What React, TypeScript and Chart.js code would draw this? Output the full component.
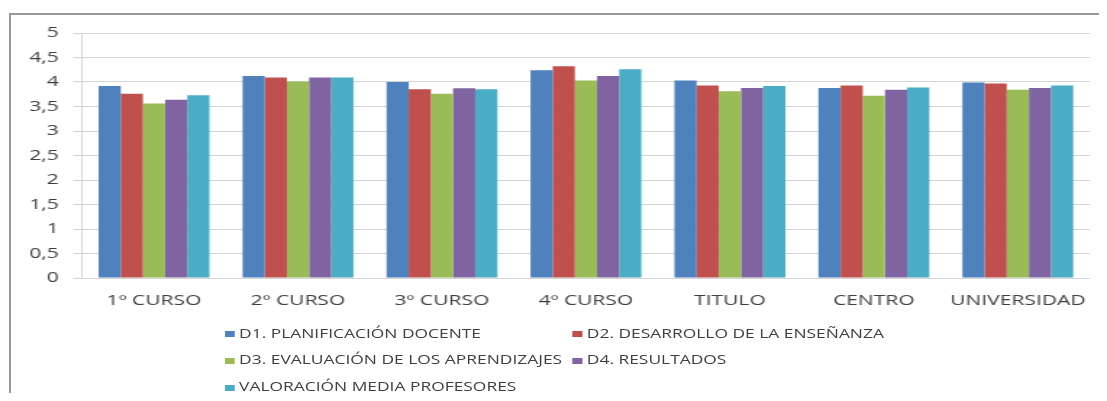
import React, { useEffect, useRef } from 'react';
import { Chart, registerables } from 'chart.js';

Chart.register(...registerables);

const categories = ['1º CURSO', '2º CURSO', '3º CURSO', '4º CURSO', 'TITULO', 'CENTRO', 'UNIVERSIDAD'];
const seriesNames = [
  'D1. PLANIFICACIÓN DOCENTE',
  'D2. DESARROLLO DE LA ENSEÑANZA',
  'D3. EVALUACIÓN DE LOS APRENDIZAJES',
  'D4. RESULTADOS',
  'VALORACIÓN MEDIA PROFESORES',
];
const seriesColors = ['#4F81BD', '#C0504D', '#9BBB59', '#8064A2', '#4BACC6'];
const d1Values = [3.92, 4.12, 4.0, 4.24, 4.03, 3.88, 3.99];
const d2Values = [3.76, 4.09, 3.85, 4.32, 3.93, 3.93, 3.97];
const d3Values = [3.56, 4.01, 3.76, 4.03, 3.81, 3.72, 3.84];
const d4Values = [3.64, 4.09, 3.87, 4.12, 3.88, 3.84, 3.88];
const mediaValues = [3.73, 4.09, 3.85, 4.26, 3.92, 3.89, 3.93];
const yTickLabels = ['0', '0,5', '1', '1,5', '2', '2,5', '3', '3,5', '4', '4,5', '5'];

const seriesValues = [d1Values, d2Values, d3Values, d4Values, mediaValues];

const RW = 764;
const RH = 401;
const SX = 1107 / RW;
const TEXT = '#404040';
const GRID = '#d4d4d4';
const FONT = "'Open Sans', 'DejaVu Sans', sans-serif";

const legendColX = [155, 395];
const legendTextX = [165, 405];
const legendRowY = [334, 360.5, 387.5];

export default function App() {
  const ref = useRef<HTMLCanvasElement>(null);

  useEffect(() => {
    if (!ref.current) return;
    const chart = new Chart(ref.current, {
      type: 'bar',
      data: {
        labels: categories,
        datasets: seriesValues.map((vals, i) => ({
          label: seriesNames[i],
          data: vals,
          backgroundColor: seriesColors[i],
          borderWidth: 0,
          barPercentage: 1,
          categoryPercentage: 0.77,
        })),
      },
      options: {
        responsive: false,
        maintainAspectRatio: false,
        animation: false,
        devicePixelRatio: 1,
        layout: { padding: { top: 33, right: 11.8, bottom: 0, left: 0 } },
        plugins: {
          legend: { display: false },
          tooltip: { enabled: false },
        },
        scales: {
          x: {
            grid: { display: false, drawTicks: false },
            border: { display: false },
            ticks: {
              padding: 14,
              color: TEXT,
              font: { family: FONT, size: 14.5 },
              maxRotation: 0,
              autoSkip: false,
            },
            afterFit: (s: any) => {
              s.height = 123;
            },
          },
          y: {
            min: 0,
            max: 5,
            ticks: {
              stepSize: 0.5,
              padding: 10,
              color: TEXT,
              font: { family: FONT, size: 14.5 },
              callback: (_v: any, i: number) => yTickLabels[i],
            },
            grid: { color: GRID, tickLength: 6, lineWidth: 1 },
            border: { color: GRID },
            afterFit: (s: any) => {
              s.width = 56.6;
            },
          },
        },
      },
    });
    return () => chart.destroy();
  }, []);

  return (
    <div style={{ position: 'relative', width: 1107, height: 401, margin: -8, overflow: 'hidden', background: '#fff' }}>
      <div
        style={{
          position: 'absolute',
          left: 9,
          top: 13,
          width: 1120,
          height: 420,
          borderTop: '2px solid #999',
          borderLeft: '2px solid #999',
        }}
      />
      <div
        style={{
          position: 'absolute',
          left: 0,
          top: 0,
          width: RW,
          height: RH,
          transform: `scaleX(${SX})`,
          transformOrigin: '0 0',
        }}
      >
        <canvas ref={ref} width={RW} height={RH} style={{ display: 'block' }} />
        {seriesNames.map((name, i) => {
          const col = i % 2;
          const row = Math.floor(i / 2);
          const cy = legendRowY[row];
          return (
            <React.Fragment key={name}>
              <div
                style={{
                  position: 'absolute',
                  left: legendColX[col],
                  top: cy - 3,
                  width: 7,
                  height: 6,
                  background: seriesColors[i],
                }}
              />
              <div
                style={{
                  position: 'absolute',
                  left: legendTextX[col],
                  top: cy - 6.4,
                  fontFamily: FONT,
                  fontSize: 12,
                  lineHeight: '12px',
                  color: TEXT,
                  whiteSpace: 'nowrap',
                }}
              >
                {name}
              </div>
            </React.Fragment>
          );
        })}
      </div>
    </div>
  );
}
